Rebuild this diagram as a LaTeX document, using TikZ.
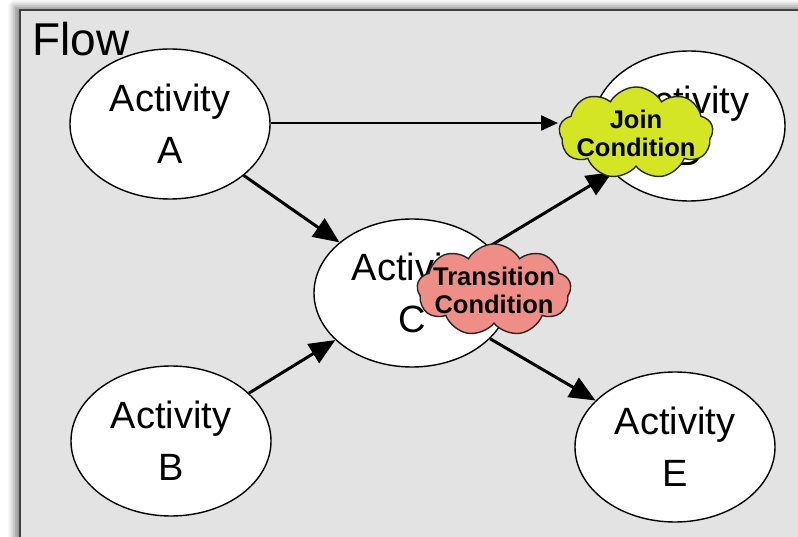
\documentclass[tikz,border=0pt]{standalone}
\usepackage{fontspec}
\setmainfont{Liberation Sans}
\usetikzlibrary{shapes.geometric,shapes.symbols,arrows.meta,shadows.blur}

\definecolor{flowgray}{HTML}{E3E3E3}
\definecolor{joinyellow}{HTML}{D4E623}
\definecolor{transsalmon}{HTML}{EF8E86}

\tikzset{
  activity/.style={ellipse, draw=black, line width=1.4pt, fill=white,
    minimum width=200pt, minimum height=150pt, inner sep=0pt, align=center,
    font=\fontsize{38}{52}\selectfont},
  condcloud/.style={cloud, cloud puffs=9, cloud puff arc=120, aspect=1.7,
    draw=black!85, line width=1.4pt, minimum width=154pt, minimum height=92pt,
    inner sep=0pt},
  condtext/.style={align=center, font=\bfseries\fontsize{25.5}{31}\selectfont},
  flowarrow/.style={-{Triangle[length=26pt,width=22pt,fill=black]}, line width=3pt},
  thinarrow/.style={-{Triangle[length=17pt,width=15pt,fill=black]}, line width=2.2pt}
}

\begin{document}
\begin{tikzpicture}[x=1pt,y=-1pt]
  \useasboundingbox (0,0) rectangle (798,537);

  % container frame, running past the right and bottom edges
  \path[fill=flowgray, draw=black!75, line width=2pt,
        blur shadow={shadow xshift=-6pt, shadow yshift=4pt,
                     shadow blur radius=6pt, shadow opacity=45}]
    (20,10) rectangle (830,570);
  \node[anchor=north west, inner sep=0pt, font=\fontsize{46}{46}\selectfont]
    (flowlabel) at (32,22) {Flow};

  % activities
  \node[activity] (A) at (170,124) {Activity\\A};
  \node[activity] (B) at (171,441) {Activity\\B};
  \node[activity, minimum width=196pt, minimum height=148pt] (C) at (412,293) {Activity\\C};
  \node[activity, minimum width=192pt, minimum height=150pt] (D) at (689,126) {Activity\\D};
  \node[activity] (E) at (675,447) {Activity\\E};

  % links
  \coordinate (joinin) at (558,123);
  \draw[thinarrow] (A.east |- joinin) -- (joinin);
  \draw[flowarrow] (A) -- (C);
  \draw[flowarrow] (B) -- (C);
  \draw[flowarrow] (C) -- (D);
  \draw[flowarrow] (C) -- (E);

  % conditions
  \node[condcloud, fill=joinyellow] (join) at (636,133) {};
  \node[condtext] (jointext) at (join.center) {Join\\[-3pt]Condition};
  \node[condcloud, fill=transsalmon] (trans) at (494,290) {};
  \node[condtext] (transtext) at (trans.center) {Transition\\[-3pt]Condition};
\end{tikzpicture}
\end{document}
